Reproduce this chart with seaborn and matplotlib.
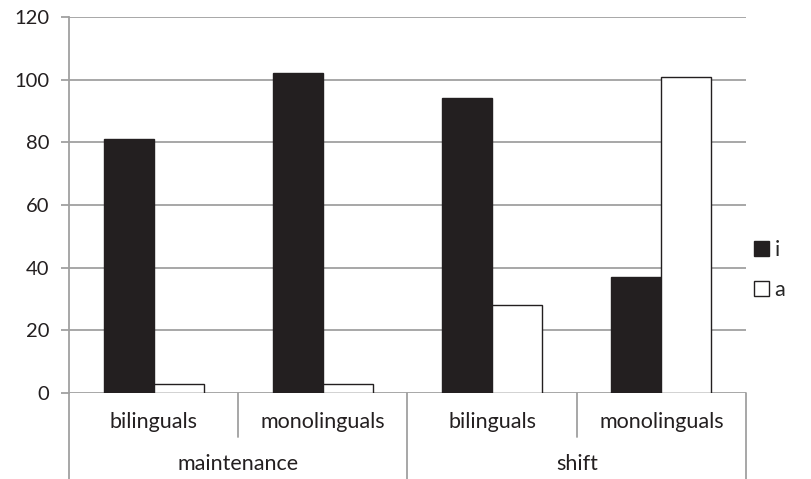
import matplotlib
matplotlib.use("Agg")
import matplotlib.pyplot as plt
import matplotlib.transforms as mtransforms
import pandas as pd
import seaborn as sns

# ── data ────────────────────────────────────────────────────
groups = ["maintenance", "maintenance", "shift", "shift"]
subgroups = ["bilinguals", "monolinguals", "bilinguals", "monolinguals"]
series = ["i", "a"]
vals_i = [81, 102, 94, 37]
vals_a = [3, 3, 28, 101]
yticks = [0, 20, 40, 60, 80, 100, 120]

keys = [f"{g}|{s}" for g, s in zip(groups, subgroups)]
df = pd.DataFrame({
    "cat": keys * 2,
    "series": ["i"] * 4 + ["a"] * 4,
    "value": vals_i + vals_a,
})

sns.set_style("white")
plt.rcParams["font.family"] = ["Lato", "DejaVu Sans"]
GRID = "#a0a0a0"
DARK = "#231f20"
TXT = "#231f20"
FS = 15.5

fig = plt.figure(figsize=(8.12, 4.79), dpi=100)
ax = fig.add_axes([69 / 812, 1 - 393 / 479, 677 / 812, 376 / 479])

sns.barplot(data=df, x="cat", y="value", hue="series", hue_order=series,
            palette=[DARK, "white"], width=0.59, ax=ax, saturation=1,
            legend=True)
for p in ax.patches:
    p.set_edgecolor(DARK)
    p.set_linewidth(1.0)

ax.set_xlim(-0.5, 3.5)
ax.set_ylim(0, 120)
ax.set_yticks(yticks)
ax.set_yticklabels([str(t) for t in yticks], fontsize=14.5, color=TXT)
ax.set_xticks([])
ax.set_xlabel("")
ax.set_ylabel("")
ax.yaxis.grid(True, color=GRID, linewidth=1.3)
ax.set_axisbelow(True)
ax.tick_params(axis="y", left=True, length=6, width=1.3, color=GRID, pad=8)
for side in ["top", "right", "bottom"]:
    ax.spines[side].set_visible(False)
ax.spines["left"].set_color(GRID)
ax.spines["left"].set_linewidth(1.3)

# multi-level category axis
tr = mtransforms.blended_transform_factory(ax.transData, ax.transAxes)
for x in [-0.5, 1.5, 3.5]:
    ax.plot([x, x], [0, -0.229], transform=tr, color=GRID, lw=1.3, clip_on=False)
for x in [0.5, 2.5]:
    ax.plot([x, x], [0, -0.117], transform=tr, color=GRID, lw=1.3, clip_on=False)
for i, s in enumerate(subgroups):
    ax.text(i, -0.076, s, transform=tr, ha="center", va="center",
            fontsize=FS, color=TXT)
for j, g in enumerate(["maintenance", "shift"]):
    ax.text(j * 2 + 0.5, -0.19, g, transform=tr, ha="center", va="center",
            fontsize=FS, color=TXT)

handles, labels = ax.get_legend_handles_labels()
ax.legend(handles, labels, loc="center left", bbox_to_anchor=(754 / 812, 1 - 270 / 479),
          bbox_transform=fig.transFigure, frameon=False, fontsize=FS,
          handlelength=0.7, handleheight=0.7, handletextpad=0.25,
          labelspacing=0.9, borderaxespad=0, borderpad=0)

fig.savefig("out.png", dpi=100)
